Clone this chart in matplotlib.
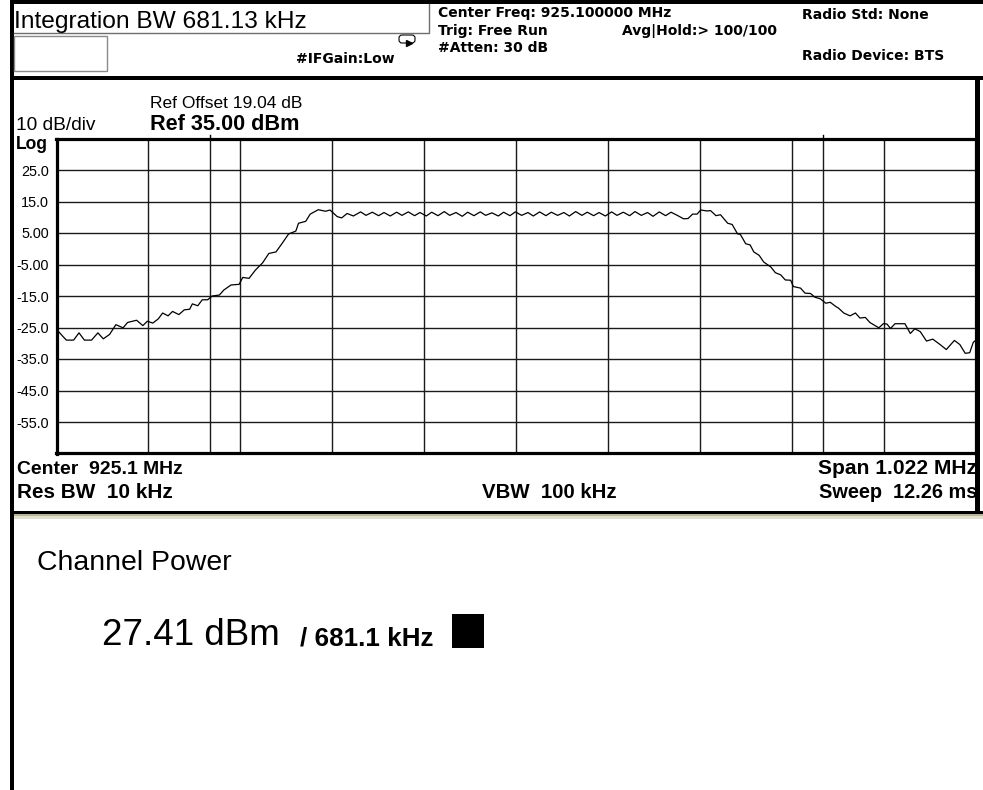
import numpy as np
import matplotlib
matplotlib.use('Agg')
import matplotlib.pyplot as plt
from matplotlib import font_manager
from matplotlib.patches import Rectangle, FancyBboxPatch

W, H = 983, 790

# trace: offset from 925.1 MHz (kHz) and level (dBm)
trace_khz = [-511, -509, -504, -500, -492, -486, -480, -472, -465, -459, -452, -445, -437,
             -432, -422, -415, -410, -404, -398, -393, -387, -382, -375, -369, -363, -360,
             -354, -349, -343, -338, -330, -325, -317, -308, -304, -297, -290, -282, -275,
             -267, -260, -253, -245, -242, -234, -229, -220, -212, -207, -199, -194, -188,
             -181, -173, -167, -160, -153, -147, -140, -133, -127, -120, -113, -107, -100,
             -94, -87, -80, -74, -67, -60, -54, -47, -40, -34, -27, -20, -14, -7, -1, 6,
             13, 19, 26, 33, 39, 46, 53, 59, 66, 73, 79, 86, 92, 99, 106, 112, 119, 126,
             132, 139, 146, 152, 159, 166, 172, 179, 186, 191, 196, 201, 205, 212, 216,
             222, 227, 235, 240, 246, 249, 255, 260, 264, 270, 275, 283, 288, 294, 299,
             305, 308, 316, 321, 327, 332, 338, 344, 349, 355, 358, 364, 371, 377, 382,
             388, 393, 403, 408, 412, 416, 421, 432, 438, 443, 449, 456, 463, 471, 478,
             487, 493, 499, 504, 508, 511]
trace_dbm = [-26.0, -26.2, -27.8, -29.0, -29.0, -26.7, -29.0, -29.0, -26.7, -28.6, -27.2,
             -24.1, -25.1, -23.4, -22.7, -24.4, -23.0, -23.6, -22.3, -20.4, -21.3, -19.9,
             -20.9, -19.4, -19.2, -17.5, -18.1, -16.2, -16.2, -15.0, -14.7, -13.1, -11.5,
             -11.3, -9.1, -9.4, -6.8, -4.5, -1.5, -1.0, 1.8, 4.7, 5.6, 8.1, 8.7, 11.0, 12.4,
             11.9, 12.3, 10.2, 9.8, 11.2, 10.4, 11.7, 10.6, 11.6, 10.5, 11.5, 10.4, 11.6,
             10.6, 11.7, 10.5, 11.5, 10.4, 11.6, 10.5, 11.8, 10.6, 11.5, 10.3, 11.6, 10.5,
             11.7, 10.6, 11.4, 10.4, 11.6, 10.5, 11.7, 10.6, 11.5, 10.4, 11.7, 10.5, 11.6,
             10.6, 11.5, 10.4, 11.8, 10.6, 11.6, 10.5, 11.5, 10.4, 11.7, 10.6, 11.6, 10.5,
             11.8, 10.6, 11.5, 10.3, 11.7, 10.5, 11.6, 10.6, 9.5, 9.6, 11.0, 11.0, 12.3,
             12.0, 12.1, 10.5, 10.8, 8.1, 7.7, 4.7, 4.6, 1.6, 1.2, -1.0, -2.1, -4.2, -5.8,
             -7.6, -8.3, -9.9, -10.0, -12.0, -12.5, -14.1, -14.2, -15.4, -15.9, -17.3,
             -17.0, -18.3, -18.8, -20.4, -21.3, -20.4, -22.0, -21.8, -23.4, -25.1, -23.8,
             -23.9, -25.3, -23.8, -23.8, -26.9, -25.4, -26.3, -29.3, -28.7, -30.4, -32.0,
             -29.1, -30.4, -33.2, -33.0, -29.7, -29.0]

ref_level = 35.0
db_per_div = 10.0
span_khz = 1022.0
int_bw_khz = 681.13
ytick_vals = [25, 15, 5, -5, -15, -25, -35, -45, -55]
ytick_labels = ['25.0', '15.0', '5.00', '-5.00', '-15.0', '-25.0', '-35.0', '-45.0', '-55.0']


def have(name):
    try:
        font_manager.findfont(name, fallback_to_default=False)
        return True
    except ValueError:
        return False


ARIAL = 'Liberation Sans' if have('Liberation Sans') else 'DejaVu Sans'
TAHOMA = 'DejaVu Sans'

fig = plt.figure(figsize=(W / 100, H / 100), dpi=100)
fig.patch.set_facecolor('white')

# background layer in pixel coordinates (y down)
bg = fig.add_axes([0, 0, 1, 1], zorder=0)
bg.set_xlim(0, W)
bg.set_ylim(H, 0)
bg.axis('off')

renderer = fig.canvas.get_renderer()


def put(s, x0, yb, family, weight='normal', x1=None, size=10, ha='left'):
    # place text on a baseline; with x1 given, scale it to the width seen on screen
    t = bg.text(x0, yb, s, ha=ha, va='baseline', fontsize=size,
                family=[family], fontweight=weight, color='black')
    if x1 is not None:
        w = t.get_window_extent(renderer).width
        t.set_fontsize(size * abs(x1 - x0) / w)
    return t.get_fontsize()


# frame lines
bg.add_patch(Rectangle((11, 0), W - 11, 4, color='black', lw=0))        # top bar
bg.add_patch(Rectangle((10, 0), 4, H, color='black', lw=0))             # left border
bg.add_patch(Rectangle((11, 76), W - 11, 4, color='black', lw=0))       # header bottom
bg.add_patch(Rectangle((975, 78), 5, 436, color='black', lw=0))         # right border
bg.add_patch(Rectangle((11, 511), W - 11, 3, color='black', lw=0))      # panel separator
bg.add_patch(Rectangle((14, 514), W - 14, 2, color='#b9b59a', lw=0))
bg.add_patch(Rectangle((14, 516), W - 14, 3, color='#e2dfcf', lw=0))

# header boxes
bg.plot([14, 429, 429], [33, 33, 4], color='#6e6e6e', lw=1)
bg.add_patch(Rectangle((14, 36), 93, 35, fill=False, ec='#8a8a8a', lw=1))
bg.add_patch(FancyBboxPatch((399, 35), 16, 8, boxstyle='round,pad=0,rounding_size=3',
                            fill=False, ec='black', lw=0.8))
bg.plot([409], [43], marker='>', color='black', ms=4)

# header text
put('Integration BW 681.13 kHz', 14, 28, ARIAL, x1=307)
hs = put('Center Freq: 925.100000 MHz', 438, 16.5, TAHOMA, 'bold', x1=671)
put('Trig: Free Run', 438, 34.5, TAHOMA, 'bold', size=hs)
put('Avg|Hold:> 100/100', 622, 34.5, TAHOMA, 'bold', size=hs)
put('#Atten: 30 dB', 438, 52, TAHOMA, 'bold', size=hs)
put('#IFGain:Low', 296, 63, TAHOMA, 'bold', size=hs)
put('Radio Std: None', 802, 19, TAHOMA, 'bold', size=hs)
put('Radio Device: BTS', 802, 59.5, TAHOMA, 'bold', size=hs)

# labels around the graticule
put('Ref Offset 19.04 dB', 150, 108, ARIAL, x1=303)
put('Ref 35.00 dBm', 150, 129.5, ARIAL, 'bold', x1=300)
put('10 dB/div', 16, 130.5, ARIAL, x1=96)
put('Log', 16, 149, ARIAL, 'bold', x1=48)
put('Center  925.1 MHz', 17, 473.5, ARIAL, 'bold', x1=183)
put('Span 1.022 MHz', 977, 473.5, ARIAL, 'bold', x1=819, ha='right')
put('Res BW  10 kHz', 17, 497.5, ARIAL, 'bold', x1=173)
put('VBW  100 kHz', 482, 497.5, ARIAL, 'bold', x1=617)
put('Sweep  12.26 ms', 977, 497.5, ARIAL, 'bold', x1=819, ha='right')

# result panel
put('Channel Power', 37, 570, ARIAL, x1=232)
put('27.41 dBm', 102, 645, ARIAL, x1=280)
put('/ 681.1 kHz', 300, 645, ARIAL, 'bold', x1=433)
bg.add_patch(Rectangle((452, 614), 32, 34, color='black', lw=0))

# graticule
ax = fig.add_axes([56.5 / W, 1 - 453.5 / H, (976 - 56.5) / W, (453.5 - 138.5) / H], zorder=2)
ax.set_xlim(-span_khz / 2, span_khz / 2)
ax.set_ylim(ref_level - 10 * db_per_div, ref_level)
for v in ytick_vals:
    ax.axhline(v, color='#1a1a1a', lw=1.0, zorder=1)
for k in range(1, 10):
    ax.axvline(-span_khz / 2 + k * span_khz / 10, color='#1a1a1a', lw=1.0, zorder=1)
for e in (-int_bw_khz / 2, int_bw_khz / 2):
    ax.axvline(e, color='#1a1a1a', lw=1.0, zorder=1)
    ax.plot([e, e], [ref_level, ref_level + 1.2], color='black', lw=1.0, clip_on=False)
ax.plot(trace_khz, trace_dbm, color='black', lw=0.9, zorder=3)
ax.set_xticks([])
ax.set_yticks(ytick_vals)
ax.set_yticklabels(ytick_labels, family=[ARIAL], fontsize=10.4)
ax.tick_params(axis='y', length=0, pad=5.4)
for sp in ax.spines.values():
    sp.set_linewidth(2.3)

fig.savefig('out.png', dpi=100)
